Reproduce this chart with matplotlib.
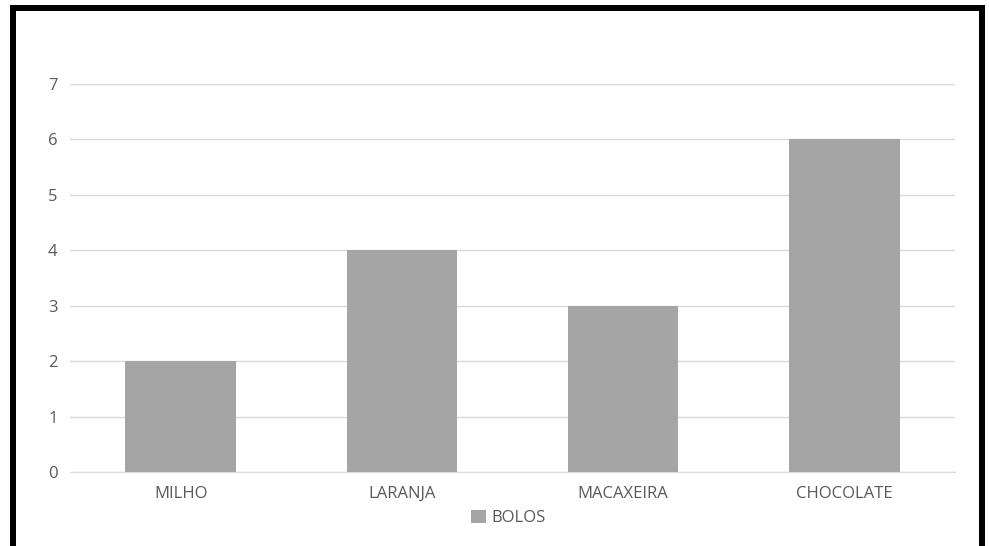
import matplotlib.pyplot as plt
from matplotlib.patches import Rectangle

categorias = ["MILHO", "LARANJA", "MACAXEIRA", "CHOCOLATE"]
bolos = [2, 4, 3, 6]
y_ticks = [0, 1, 2, 3, 4, 5, 6, 7]

plt.rcParams['font.family'] = ['Open Sans', 'DejaVu Sans']

W, H = 989, 546
fig = plt.figure(figsize=(W / 100, H / 100), dpi=100)

# plot area in pixels: x 70..955, y 84..472
ax = fig.add_axes([70 / W, 1 - 472 / H, (955 - 70) / W, (472 - 84) / H])
x = range(len(categorias))
ax.bar(x, bolos, width=0.5, color='#A5A5A5', label='BOLOS', zorder=3)
ax.set_xlim(-0.5, len(categorias) - 0.5)
ax.set_ylim(0, 7)
ax.set_yticks(y_ticks)
ax.set_xticks(list(x))
ax.set_xticklabels(categorias)
ax.yaxis.grid(True, color='#D9D9D9', linewidth=1, zorder=0)
for s in ['top', 'right', 'left']:
    ax.spines[s].set_visible(False)
ax.spines['bottom'].set_color('#D9D9D9')
ax.tick_params(axis='both', length=0, colors='#595959', labelsize=12)
ax.tick_params(axis='y', pad=9)
ax.tick_params(axis='x', pad=10)

ax.legend(loc='upper center', bbox_to_anchor=(0.495, -0.058), frameon=False,
          handlelength=0.9, handleheight=0.9, handletextpad=0.3,
          fontsize=12, labelcolor='#595959')

# black frame of the screenshot (open at the bottom)
lw = 6 * 72 / 100
fig.patches.append(Rectangle((13 / W, -0.1), (981.5 - 13) / W, 1.1 - 8 / H,
                             transform=fig.transFigure, fill=False,
                             edgecolor='black', linewidth=lw))

fig.savefig('out.png', dpi=100)
